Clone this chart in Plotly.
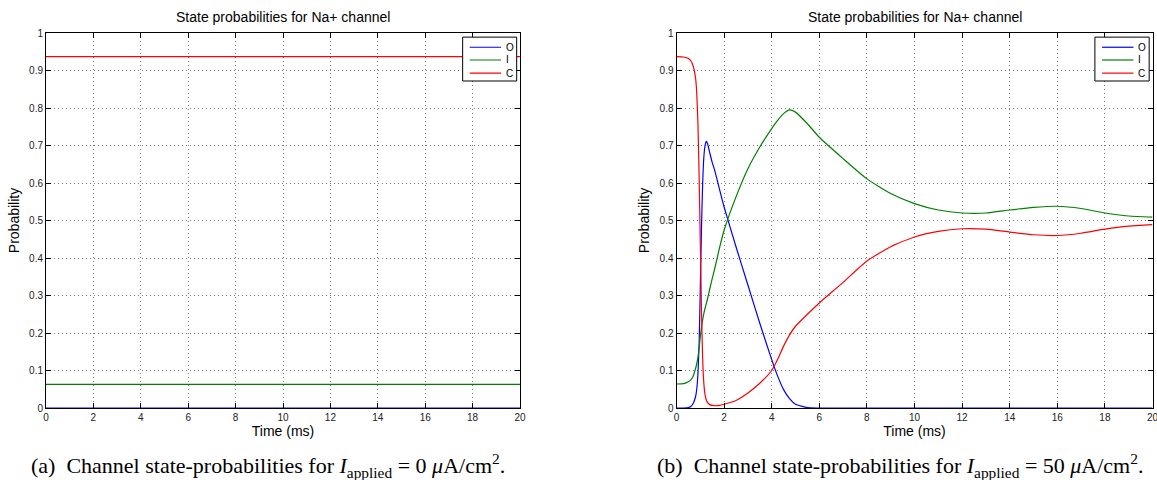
import plotly.graph_objects as go

# ---------------- data ----------------
series_names = ["O", "I", "C"]
series_colors = ["#0000ff", "#008000", "#ff0000"]

# (a) I_applied = 0 : constant steady state
time_a = [0, 20]
O_a = [0.0, 0.0]
I_a = [0.063, 0.063]
C_a = [0.937, 0.937]

# (b) I_applied = 50
time_b = [0, 0.3, 0.5, 0.6, 0.7, 0.8, 0.85, 0.9, 0.95, 1.0, 1.05, 1.1, 1.15, 1.2, 1.25,
          1.3, 1.4, 1.5, 1.6, 1.8, 2.0, 2.5, 3.0, 3.5, 4.0, 4.25, 4.5, 4.75, 5.0, 5.5,
          6.0, 7.0, 8.0, 9.0, 10, 11, 12, 13, 14, 15, 16, 17, 18, 19, 20]
O_b = [0.0, 0.0, 0.001, 0.004, 0.012, 0.03, 0.05, 0.09, 0.17, 0.32, 0.48, 0.60, 0.67, 0.70, 0.711,
       0.706, 0.68, 0.655, 0.635, 0.585, 0.536, 0.43, 0.328, 0.226, 0.129, 0.085, 0.049, 0.025, 0.01, 0.001,
       0.0, 0.0, 0.0, 0.0, 0.0, 0.0, 0.0, 0.0, 0.0, 0.0, 0.0, 0.0, 0.0, 0.0, 0.0]
I_b = [0.064, 0.065, 0.07, 0.075, 0.085, 0.105, 0.118, 0.135, 0.16, 0.19, 0.215, 0.235, 0.252, 0.266, 0.278,
       0.29, 0.318, 0.345, 0.37, 0.425, 0.474, 0.563, 0.638, 0.696, 0.745, 0.767, 0.785, 0.795, 0.789, 0.758,
       0.722, 0.665, 0.611, 0.572, 0.545, 0.528, 0.52, 0.52, 0.528, 0.535, 0.538, 0.532, 0.52, 0.512, 0.509]
C_b = [0.937, 0.936, 0.932, 0.926, 0.912, 0.88, 0.84, 0.76, 0.62, 0.44, 0.26, 0.13, 0.065, 0.035, 0.022,
       0.015, 0.009, 0.007, 0.006, 0.007, 0.010, 0.02, 0.04, 0.066, 0.10, 0.13, 0.165, 0.195, 0.218, 0.25,
       0.28, 0.335, 0.392, 0.43, 0.456, 0.471, 0.478, 0.477, 0.469, 0.462, 0.46, 0.466, 0.477, 0.485, 0.489]

x_ticks = [0, 2, 4, 6, 8, 10, 12, 14, 16, 18, 20]
y_ticks = [0, 0.1, 0.2, 0.3, 0.4, 0.5, 0.6, 0.7, 0.8, 0.9, 1]
y_tick_labels = ["0", "0.1", "0.2", "0.3", "0.4", "0.5", "0.6", "0.7", "0.8", "0.9", "1"]

panel_title = "State probabilities for Na+ channel"
captions = [
    "(a)  Channel state-probabilities for <i>I</i><sub>applied</sub> = 0 <i>μ</i>A/cm<sup>2</sup>.",
    "(b)  Channel state-probabilities for <i>I</i><sub>applied</sub> = 50 <i>μ</i>A/cm<sup>2</sup>.",
]

# ---------------- figure ----------------
W, H = 1157, 480
SANS = "Liberation Sans, Arial, sans-serif"
SERIF = "Liberation Serif, Times New Roman, serif"

fig = go.Figure()

panels = [
    ("x", "y", time_a, [O_a, I_a, C_a], "linear"),
    ("x2", "y2", time_b, [O_b, I_b, C_b], "spline"),
]
for xa, ya, t, vals, shape in panels:
    for name, col, v in zip(series_names, series_colors, vals):
        fig.add_trace(go.Scatter(x=t, y=v, mode="lines", name=name, xaxis=xa, yaxis=ya,
                                 line=dict(color=col, width=1.2, shape=shape, smoothing=0.5),
                                 showlegend=False, cliponaxis=True))

x_domains = [[46 / W, 520 / W], [676.5 / W, 1152.5 / W]]
y_domain = [1 - 408 / H, 1 - 33 / H]

axis_common = dict(
    showline=True, linecolor="black", linewidth=1, mirror="ticks",
    ticks="inside", ticklen=5, tickcolor="black", tickwidth=1,
    showgrid=True, gridcolor="#7a7a7a", griddash="1px,3px", gridwidth=1,
    zeroline=False, tickfont=dict(family=SANS, size=10, color="#222"),
    ticklabeloverflow="allow", automargin=False,
)

layout_axes = {}
for i, dom in enumerate(x_domains):
    sx = "" if i == 0 else str(i + 1)
    layout_axes["xaxis" + sx] = dict(
        axis_common, domain=dom, range=[0, 20], tickmode="array", tickvals=x_ticks,
        anchor="y" + sx,
        title=dict(text="Time (ms)", font=dict(family=SANS, size=14, color="black"), standoff=1),
    )
    layout_axes["yaxis" + sx] = dict(
        axis_common, domain=y_domain, range=[0, 1], tickmode="array", tickvals=y_ticks,
        ticktext=y_tick_labels, anchor="x" + sx,
        title=dict(text="Probability", font=dict(family=SANS, size=14, color="black"), standoff=6),
    )

fig.update_layout(
    width=W, height=H, margin=dict(l=0, r=0, t=0, b=0),
    paper_bgcolor="white", plot_bgcolor="white", showlegend=False,
    **layout_axes,
)

annotations = []
shapes = []
for i in range(2):
    sx = "" if i == 0 else str(i + 1)
    xr = "x" + sx + " domain"
    yr = "y" + sx + " domain"
    # panel title
    annotations.append(dict(text=panel_title, xref=xr, yref=yr, x=0.5, y=1.0, yshift=6,
                            xanchor="center", yanchor="bottom", showarrow=False,
                            font=dict(family=SANS, size=14, color="black")))
    # legend box
    shapes.append(dict(type="rect", xref=xr, yref=yr, x0=0.879, x1=0.993, y0=0.872, y1=0.989,
                       line=dict(color="black", width=1), fillcolor="white", layer="above"))
    rows = [0.962, 0.928, 0.893]
    for name, col, yy in zip(series_names, series_colors, rows):
        shapes.append(dict(type="line", xref=xr, yref=yr, x0=0.894, x1=0.960, y0=yy, y1=yy,
                           line=dict(color=col, width=1.2), layer="above"))
        annotations.append(dict(text=name, xref=xr, yref=yr, x=0.966, y=yy, xanchor="left",
                                yanchor="middle", showarrow=False,
                                font=dict(family=SANS, size=10, color="black")))

caption_x = [268 / W, 900 / W]
for cx, cap in zip(caption_x, captions):
    annotations.append(dict(text=cap, xref="paper", yref="paper", x=cx, y=1 - 465 / H,
                            xanchor="center", yanchor="middle", showarrow=False,
                            font=dict(family=SERIF, size=22, color="black")))

fig.update_layout(annotations=annotations, shapes=shapes)
fig.write_html("out.html", config={"displayModeBar": False},
               post_script="document.body.style.margin='0';")
